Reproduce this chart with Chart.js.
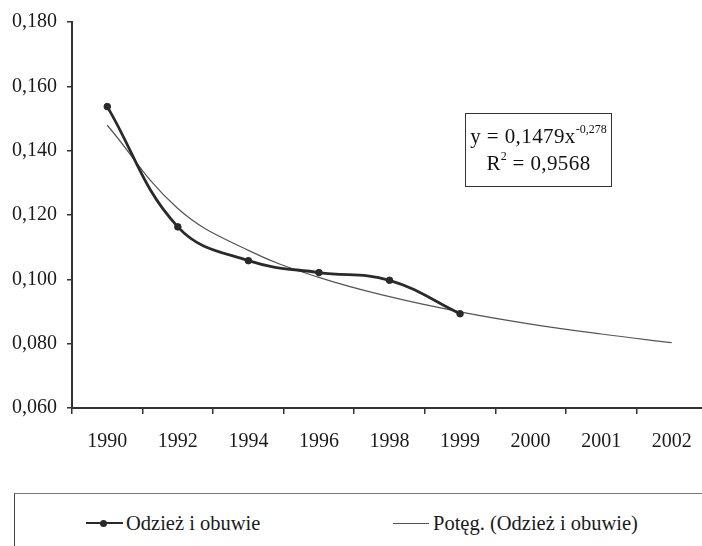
<!DOCTYPE html>
<html>
<head>
<meta charset="utf-8">
<script src="https://cdn.jsdelivr.net/npm/chart.js@4"></script>
<style>
  html, body { margin: 0; padding: 0; background: #fff; overflow: hidden; width: 702px; height: 546px; }
  #wrap { position: absolute; left: 0; top: 0; width: 712px; height: 479px; }
  .eq { position: absolute; left: 465px; top: 113px; width: 147px; height: 74px; border: 1.5px solid #333;
        font-family: "Liberation Serif", serif; font-size: 21px; color: #111; text-align: center; line-height: 27px; padding-top: 9px; box-sizing: border-box; letter-spacing: 0.4px; }
  .eq sup { font-size: 12px; vertical-align: 10px; line-height: 0; letter-spacing: 0; }
  .legend { position: absolute; left: 14px; top: 493px; width: 700px; height: 60px; border-left: 1.5px solid #444; border-top: 1.5px solid #777;
            font-family: "Liberation Serif", serif; font-size: 20.5px; color: #1a1a1a; }
  .item { position: absolute; top: 17px; line-height: 24px; white-space: nowrap; }
  .mk { position: absolute; height: 0; }
  .dot { position: absolute; width: 7px; height: 7px; border-radius: 50%; background: #2a2a2a; }
</style>
</head>
<body>
<div id="wrap"><canvas id="lineChart" width="712" height="479"></canvas></div>
<div class="eq">y = 0,1479x<sup>-0,278</sup><br>R<sup>2</sup> = 0,9568</div>
<div class="legend">
  <div class="mk" style="left:71px;width:37px;border-top:2.5px solid #2a2a2a;top:28px"><div class="dot" style="left:14px;top:-4.5px"></div></div>
  <div class="item" style="left:111px">Odzież i obuwie</div>
  <div class="mk" style="left:378px;width:36px;border-top:1px solid #555;top:29px"></div>
  <div class="item" style="left:418px">Potęg. (Odzież i obuwie)</div>
</div>
<script>
const years = ['1990', '1992', '1994', '1996', '1998', '1999', '2000', '2001', '2002'];
const clothing = [0.1537, 0.1163, 0.1058, 0.1021, 0.0997, 0.0893, null, null, null];
const powerTrend = [0.1479, 0.1220, 0.1090, 0.1006, 0.0946, 0.0899, 0.0861, 0.0830, 0.0803];
const yTicks = [0.06, 0.08, 0.10, 0.12, 0.14, 0.16, 0.18];

const serif = { family: '"Liberation Serif", serif', size: 20 };

let lineChartItem = new Chart(document.getElementById('lineChart'), {
  type: 'line',
  data: {
    labels: years,
    datasets: [{
      label: 'Odzież i obuwie',
      data: clothing,
      borderColor: '#2a2a2a',
      backgroundColor: '#2a2a2a',
      borderWidth: 2.8,
      pointRadius: 3.3,
      pointBorderWidth: 1,
      pointHoverRadius: 3.3,
      tension: 0.4
    }, {
      label: 'Potęg. (Odzież i obuwie)',
      data: powerTrend,
      borderColor: '#555',
      borderWidth: 1.2,
      pointRadius: 0,
      tension: 0.4
    }]
  },
  options: {
    responsive: false,
    animation: false,
    layout: { padding: { top: 20, right: 5, left: 2, bottom: 9 } },
    plugins: { legend: { display: false }, tooltip: { enabled: false } },
    scales: {
      x: {
        offset: true,
        grid: { offset: true, drawOnChartArea: false, drawTicks: true, tickLength: 6, color: '#333', lineWidth: 1.5 },
        border: { color: '#333', width: 2 },
        ticks: { color: '#1a1a1a', font: serif, padding: 16, maxRotation: 0 }
      },
      y: {
        min: 0.06,
        max: 0.18,
        afterBuildTicks: axis => { axis.ticks = yTicks.map(v => ({ value: v })); },
        grid: { drawOnChartArea: false, drawTicks: true, tickLength: 5, color: '#333', lineWidth: 1.5 },
        border: { color: '#333', width: 2 },
        ticks: { color: '#1a1a1a', font: serif, padding: 10, callback: v => v.toFixed(3).replace('.', ',') }
      }
    }
  }
});
</script>
</body>
</html>
